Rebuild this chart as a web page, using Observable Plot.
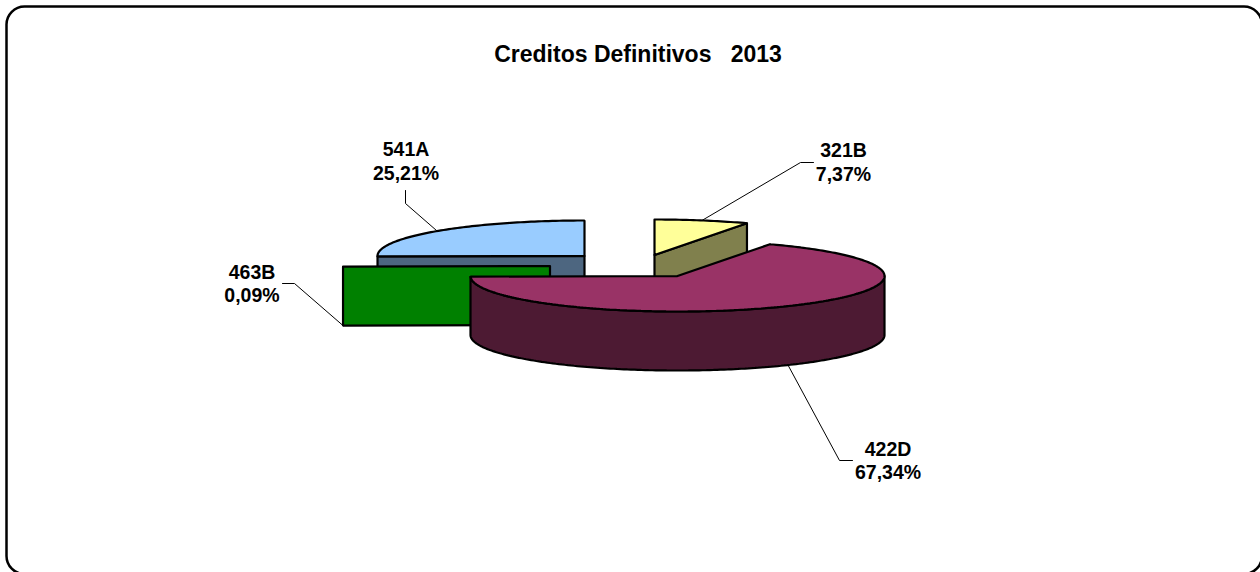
<!DOCTYPE html>
<html><head><meta charset="utf-8">
<script src="https://cdn.jsdelivr.net/npm/d3@7"></script>
<script src="https://cdn.jsdelivr.net/npm/@observablehq/plot@0.6"></script>
<style>html,body{margin:0;padding:0;background:#fff;overflow:hidden}svg{display:block;max-width:none}svg text{white-space:pre}</style>
</head><body><div id="chart"></div>
<script>
// Data (clockwise order, starting near the 9 o'clock position)
const codes = ["463B", "541A", "321B", "422D"];
const shares = [0.09, 25.21, 7.37, 67.34];
const labels = ["0,09%", "25,21%", "7,37%", "67,34%"];
const title = "Creditos Definitivos   2013";

// Styling and layout, separate from the data
const topColors = ["#008000", "#99CCFF", "#FFFF99", "#993366"];
const wallColors = ["#008000", "#4D6680", "#80804D", "#4D1A33"];
const offX = [-127.5, -93, -23, 0];
const offY = [-10, -20, -21, 0];
const labelX = [251.5, 405.5, 843, 887.5];
const labelY = [282.5, 160, 161, 459.5];
const elbowX = [[294, 282], [405, 405], [800, 813], [839, 852]];
const elbowY = [[283, 283], [203, 190], [162, 162], [460, 460]];

const startAngle = 268.92;
const cx = 677, cy = 275.5, rx = 207, ry = 35.5, depth = 59;
const rad = d => d * Math.PI / 180;

// Cumulative angles derived from the shares
let acc = startAngle;
const slices = codes.map((code, i) => {
  const a0 = acc, a1 = acc + shares[i] * 3.6;
  acc = a1;
  return {i, code, a0, a1, mid: (a0 + a1) / 2, ox: cx + offX[i], oy: cy + offY[i]};
});
const rim = (s, a, dz = 0) => ({x: s.ox + rx * Math.sin(rad(a)), y: s.oy - ry * Math.cos(rad(a)) + dz});
const arc = (s, a0, a1, dz = 0) => {
  const n = Math.max(2, Math.ceil(Math.abs(a1 - a0)));
  return d3.range(n + 1).map(k => rim(s, a0 + (a1 - a0) * k / n, dz));
};

const polys = [];
const add = (id, fill, pts) => pts.forEach(p => polys.push({...p, id, fill}));
const close = pts => [...pts, pts[0], pts[1]];

// Back slices first, front slice last
for (const i of [1, 2, 0, 3]) {
  const s = slices[i], apex = {x: s.ox, y: s.oy}, low = {x: s.ox, y: s.oy + depth};
  if (i === 3) {
    // outer wall: only the part in front of the ellipse
    add("w" + i, wallColors[i], close([...arc(s, 90, 270), ...arc(s, 270, 90, depth)]));
    add("t" + i, topColors[i], close([apex, ...arc(s, s.a0, s.a1)]));
  } else {
    const e = rim(s, i === 2 ? s.a1 : s.a0);
    add("w" + i, wallColors[i], close([apex, e, {x: e.x, y: e.y + depth}, low]));
    if (i !== 0) add("t" + i, topColors[i], close([apex, ...arc(s, s.a0, s.a1)]));
  }
}

// Leader lines start on the rim at each slice's mid-angle
const leaders = slices.flatMap((s, i) => {
  const dz = i === 0 || i === 3 ? depth : 0;
  const p = rim(s, s.mid, dz);
  return [p, ...elbowX[i].map((x, k) => ({x, y: elbowY[i][k]}))].map(q => ({...q, id: i}));
});

const textRows = slices.map((s, i) => ({x: labelX[i], y: labelY[i], text: s.code + "\n" + labels[i]}));

const plot = Plot.plot({
  width: 1260, height: 572,
  margin: 0,
  x: {domain: [0, 1260], range: [0, 1260], axis: null},
  y: {domain: [0, 572], range: [0, 572], axis: null},
  marks: [
    Plot.rect([{}], {x1: () => 6.5, x2: () => 1262, y1: () => 6.5, y2: () => 574, rx: 18,
      fill: "white", stroke: "black", strokeWidth: 2.5}),
    Plot.text([title], {x: () => 637.5, y: () => 54, text: d => d, fontSize: 23, fontWeight: "bold",
      fontFamily: "Liberation Sans", fill: "black"}),
    Plot.line(leaders, {x: "x", y: "y", z: "id", stroke: "black", strokeWidth: 1, curve: "linear"}),
    Plot.line(polys, {x: "x", y: "y", z: "id", fill: "fill", stroke: "black", strokeWidth: 2.2,
      curve: "linear", strokeLinejoin: "miter"}),
    Plot.text(textRows, {x: "x", y: "y", text: "text", fontSize: 19.5, fontWeight: "bold", lineHeight: 1.2,
      lineAnchor: "middle", fontFamily: "Liberation Sans", fill: "black"})
  ]
});
document.getElementById("chart").append(plot);
</script></body></html>
